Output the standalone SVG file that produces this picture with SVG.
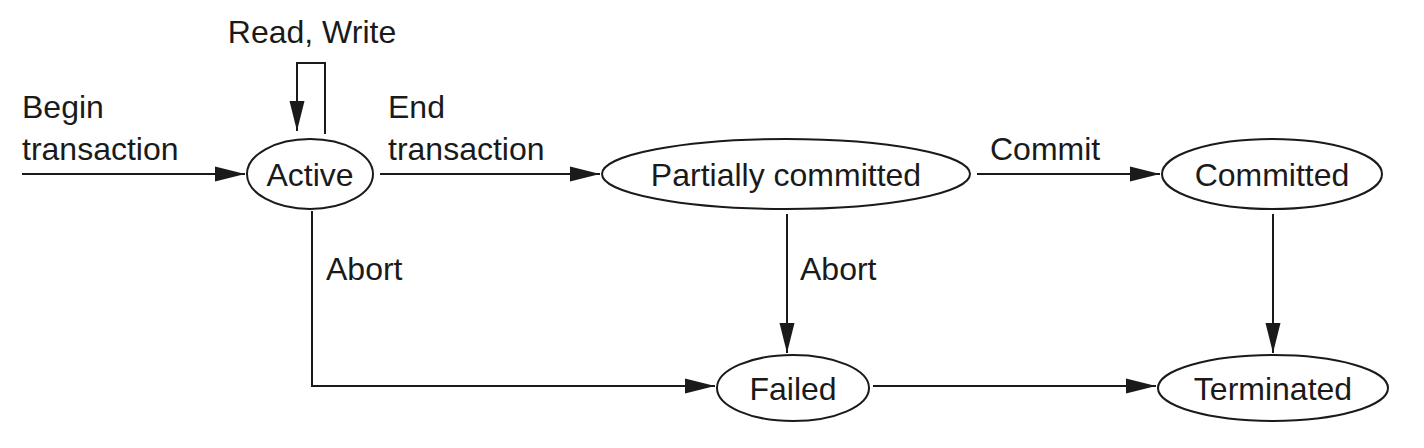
<svg xmlns="http://www.w3.org/2000/svg" width="1424" height="448" viewBox="0 0 1424 448">
<style>
text{font-family:"Liberation Sans",Arial,sans-serif;font-size:32px;fill:#1a1a1a}
.n ellipse{fill:#fff;stroke:#1a1a1a;stroke-width:2}
.n text{text-anchor:middle}
#edges path{fill:none;stroke:#1a1a1a;stroke-width:2;marker-end:url(#ah)}
</style>
<defs>
<marker id="ah" markerUnits="userSpaceOnUse" markerWidth="30" markerHeight="16" refX="30" refY="8" orient="auto" viewBox="0 0 30 16">
<path d="M0,0.5 L30,8 L0,15.5 z" fill="#1a1a1a"/>
</marker>
</defs>
<rect width="1424" height="448" fill="#fff"/>
<g id="edges">
<path d="M22,174 H245"/>
<path d="M325,134 V63 H297 V131"/>
<path d="M380,174 H600"/>
<path d="M977,174 H1160"/>
<path d="M312,211 V386 H715"/>
<path d="M787,214 V353"/>
<path d="M1273,214 V353"/>
<path d="M873,386 H1156"/>
</g>
<g id="labels">
<text x="22" y="118">Begin</text>
<text x="22" y="160">transaction</text>
<text x="312" y="43" text-anchor="middle">Read, Write</text>
<text x="388" y="118">End</text>
<text x="388" y="160">transaction</text>
<text x="990" y="160">Commit</text>
<text x="326" y="280">Abort</text>
<text x="800" y="280">Abort</text>
</g>
<g id="active" class="n"><ellipse cx="310" cy="174" rx="63" ry="35"/><text x="310" y="186">Active</text></g>
<g id="partially" class="n"><ellipse cx="786" cy="174" rx="184" ry="35"/><text x="786" y="186">Partially committed</text></g>
<g id="committed" class="n"><ellipse cx="1272" cy="174" rx="110" ry="35"/><text x="1272" y="186">Committed</text></g>
<g id="failed" class="n"><ellipse cx="793" cy="388" rx="76" ry="33"/><text x="793" y="400">Failed</text></g>
<g id="terminated" class="n"><ellipse cx="1273" cy="388" rx="115" ry="33"/><text x="1273" y="400">Terminated</text></g>
</svg>
